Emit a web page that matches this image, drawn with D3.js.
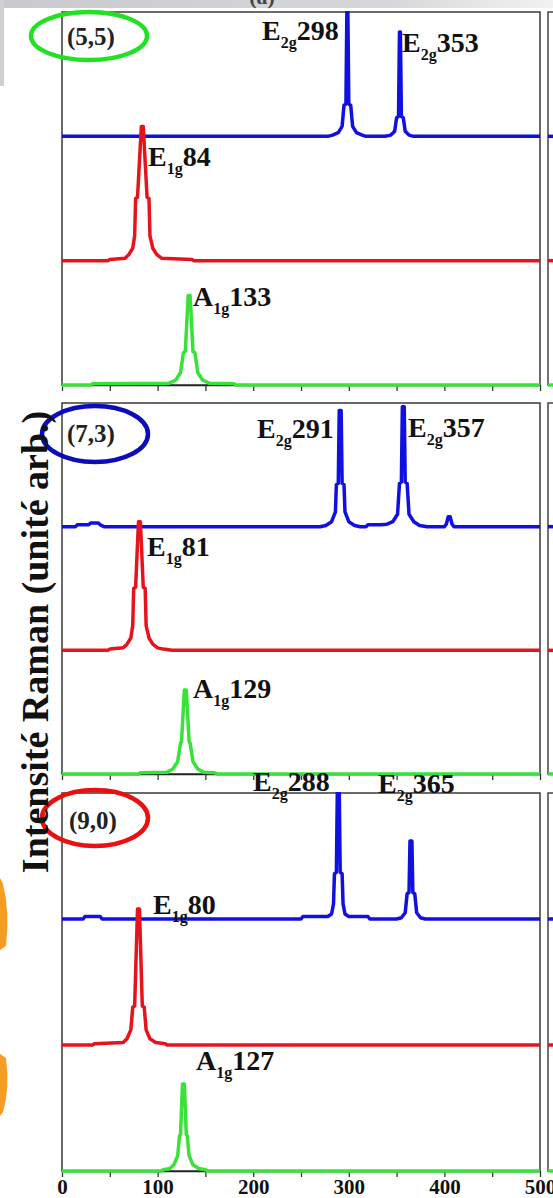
<!DOCTYPE html>
<html>
<head>
<meta charset="utf-8">
<script src="https://cdn.jsdelivr.net/npm/d3@7"></script>
<style>
  body { margin: 0; background: #fff; overflow: hidden; }
  svg { display: block; font-family: 'Liberation Serif', 'Times New Roman', serif; font-weight: bold; }
</style>
</head>
<body>
<div id="chart"></div>
<script>
// Spectres : [nombre d'onde (cm-1), intensité au-dessus de sa ligne de base]
// tube (5,5)
const blue55 = [[0,0],[278,0],[283,1],[289,3],[293,8],[295,25],[297,26],[298,102],[299,102],[300,26],[302,25],[304,8],[308,3],[314,1],[318,0],
  [338,0],[344,1],[348,4],[350,15],[352,16],[353,84],[354,84],[355,16],[357,15],[359,4],[363,1],[368,0],[500,0]]
const red55 = [[0,0],[48,0],[50,1],[66,2],[70,5],[74,10],[76,20],[77,50],[79,51],[83,108],[85,108],[89,51],[91,50],[92,20],[95,10],[99,5],[104,2],[136,1],[138,0],[500,0]]
const green55 = [[0,0],[30,0],[32,1],[112,1.5],[119,4],[124,10],[127,26],[129,27],[132,72],[134,72],[137,27],[139,26],[142,10],[147,4],[154,1.5],[180,1],[182,0],[500,0]]
// tube (7,3)
const blue73 = [[0,0],[14,0],[16,1.5],[28,1.5],[30,3],[38,3],[40,1.5],[44,0],[270,0],[276,1],[282,4],[286,12],[287,34],[289,35],[290,94],[292,94],[293,35],[295,34],[296,12],[300,4],[306,1],[312,0],
  [318,0],[320,1.5],[334,1.5],[340,2],[346,4],[351,10],[353,35],[355,36],[356,97],[358,97],[359,36],[361,35],[363,10],[368,4],[374,1],[382,0],[400,0],[402,2],[404,8],[406,8],[408,2],[410,0],[500,0]]
const red73 = [[0,0],[48,0],[50,1],[64,2],[68,5],[72,10],[74,20],[75,50],[77,51],[80,104],[82,104],[85,51],[87,50],[88,20],[91,10],[95,5],[100,2],[106,1],[115,0],[500,0]]
const green73 = [[0,0],[80,0],[82,1],[110,1.5],[116,4],[121,10],[124,25],[125,26],[128,68],[130,68],[133,26],[134,25],[137,10],[142,4],[148,1.5],[160,1],[162,0],[500,0]]
// tube (9,0)
const blue90 = [[0,0],[22,0],[24,2],[40,2],[42,0],[250,0],[252,2],[278,2],[282,4],[284,12],[285,36],[287,37],[288,102],[290,102],[291,37],[293,36],[294,12],[296,4],[300,2],[320,2],[322,0],
  [350,0],[355,1],[359,5],[361,20],[363,21],[364,62],[366,62],[367,21],[369,20],[371,5],[375,1],[380,0],[500,0]]
const red90 = [[0,0],[32,0],[34,1],[64,2],[68,5],[72,12],[74,30],[76,31],[79,108],[81,108],[84,31],[86,30],[88,12],[92,5],[98,2],[108,1],[110,0],[500,0]]
const green90 = [[0,0],[104,0],[106,1],[113,2],[117,5],[121,12],[123,28],[124,29],[126,69],[128,69],[130,29],[131,28],[133,12],[137,5],[143,2],[150,1],[152,0],[500,0]]

const tubes = ['(5,5)', '(7,3)', '(9,0)']
const spectres = [[blue55, red55, green55], [blue73, red73, green73], [blue90, red90, green90]]
// modes : [lettre, indice, nombre d'onde]
const modes = [
  [['E','2g',298], ['E','2g',353], ['E','1g',84], ['A','1g',133]],
  [['E','2g',291], ['E','2g',357], ['E','1g',81], ['A','1g',129]],
  [['E','2g',288], ['E','2g',365], ['E','1g',80], ['A','1g',127]]
]
const xTicks  = [0, 50, 100, 150, 200, 250, 300, 350, 400, 450, 500]
const xLabels = [0, 100, 200, 300, 400, 500]
const yTitre = 'Intensité Raman (unité arb.)'

// mise en page
const largeur = 553, hauteur = 1198
const couleurs = ['#1010e0', '#e5141c', '#38e238']
const decalage = [200, 100, 0]
const cercles = ['#22e022', '#0c0cb8', '#ea1010']
const panneaux = [{top: 12, bottom: 385}, {top: 403, bottom: 774}, {top: 793, bottom: 1171}]
const posTube = [[67, 45], [67, 442], [69, 829]]
const posEllipse = [[89, 36, 58, 24], [95, 434, 53, 28], [95, 818, 53, 28]]
const posModes = [
  [[262, 40], [402, 52], [148, 166], [193, 306]],
  [[257, 438], [408, 437], [147, 556], [193, 698]],
  [[253, 791], [378, 793], [153, 914], [196, 1070]]
]

svg = d3.select('#chart').append('svg')
  .attr('width', largeur)
  .attr('height', hauteur)

// bandeau gris de la capture
grad = svg.append('defs').append('linearGradient').attr('id', 'bandeau')
grad.append('stop').attr('offset', '0%').attr('stop-color', '#c9cacf')
grad.append('stop').attr('offset', '70%').attr('stop-color', '#d6d7da')
grad.append('stop').attr('offset', '100%').attr('stop-color', '#f2f2f2')
svg.append('rect').attr('x', 0).attr('y', 0).attr('width', largeur).attr('height', 8).attr('fill', 'url(#bandeau)')
svg.append('rect').attr('x', 0).attr('y', 0).attr('width', 4).attr('height', 86).attr('fill', '#cfd0d4')
svg.append('text').attr('x', 262).attr('y', 4).attr('text-anchor', 'middle')
  .attr('font-size', 22).attr('fill', '#444').text('(a)')

// morceau de logo orange à gauche
svg.append('path').attr('d', 'M0,878 L3,884 Q10,912 6,946 L0,950 Z').attr('fill', '#f59d22')
svg.append('path').attr('d', 'M0,1054 L6,1058 Q10,1088 3,1112 L0,1116 Z').attr('fill', '#f59d22')

x = d3.scaleLinear().domain([0, 500]).range([62, 540])

panneaux.forEach((p, i) => {
  y = d3.scaleLinear().domain([0, 300]).range([p.bottom, p.top])
  g = svg.append('g')

  // panneau voisin (coupé à droite)
  g.append('rect').attr('x', 548).attr('y', p.top).attr('width', 30).attr('height', p.bottom - p.top)
    .attr('fill', 'none').attr('stroke', '#444').attr('stroke-width', 1.5)
  decalage.forEach((d, k) => {
    g.append('line').attr('x1', 548).attr('x2', largeur)
      .attr('y1', y(d)).attr('y2', y(d))
      .attr('stroke', couleurs[k]).attr('stroke-width', 3.5)
  })

  g.append('rect')
    .attr('x', x(0)).attr('y', p.top)
    .attr('width', x(500) - x(0)).attr('height', p.bottom - p.top)
    .attr('fill', 'none').attr('stroke', '#3a3a3a').attr('stroke-width', 1.5)

  axe = d3.axisBottom(x).tickValues(xTicks).tickSize(6).tickSizeOuter(0)
    .tickFormat(d => (i == 2 && xLabels.includes(d)) ? d : '')
  ax = g.append('g').attr('transform', `translate(0, ${p.bottom})`).call(axe)
  ax.select('.domain').attr('stroke', '#222').attr('stroke-width', 1.5)
  ax.selectAll('.tick line').attr('stroke', '#333').attr('stroke-width', 1.3)
  ax.selectAll('.tick text')
    .attr('font-family', "'Liberation Serif', serif").attr('font-weight', 'bold')
    .attr('font-size', 21).attr('fill', '#111').attr('y', 8).attr('dy', '0.7em')

  clip = 'clip' + i
  svg.select('defs').append('clipPath').attr('id', clip)
    .append('rect').attr('x', x(0)).attr('y', p.top - 1).attr('width', x(500) - x(0)).attr('height', p.bottom - p.top + 4)

  ligne = d3.line()
  spectres[i].forEach((s, k) => {
    ligne.x(d => x(d[0])).y(d => y(d[1] + decalage[k]))
    g.append('path')
      .attr('clip-path', `url(#${clip})`)
      .attr('d', ligne(s))
      .attr('fill', 'none')
      .attr('stroke', couleurs[k])
      .attr('stroke-width', 3.5)
      .attr('stroke-linejoin', 'round')
  })

  e = posEllipse[i]
  g.append('ellipse').attr('cx', e[0]).attr('cy', e[1]).attr('rx', e[2]).attr('ry', e[3])
    .attr('fill', 'none').attr('stroke', cercles[i]).attr('stroke-width', 4.5)
  g.append('text').attr('x', posTube[i][0]).attr('y', posTube[i][1])
    .attr('font-size', 25).attr('fill', '#222').text(tubes[i])

  modes[i].forEach((m, k) => {
    t = g.append('text')
      .attr('x', posModes[i][k][0]).attr('y', posModes[i][k][1])
      .attr('font-size', 28).attr('fill', '#111')
    t.append('tspan').text(m[0])
    t.append('tspan').attr('font-size', 16).attr('dy', 8).text(m[1])
    t.append('tspan').attr('dy', -8).text(m[2])
  })
})

svg.append('text')
  .attr('transform', `translate(48, 642) rotate(-90)`)
  .attr('text-anchor', 'middle')
  .attr('font-size', 38).attr('fill', '#111')
  .text(yTitre)
</script>
</body>
</html>
